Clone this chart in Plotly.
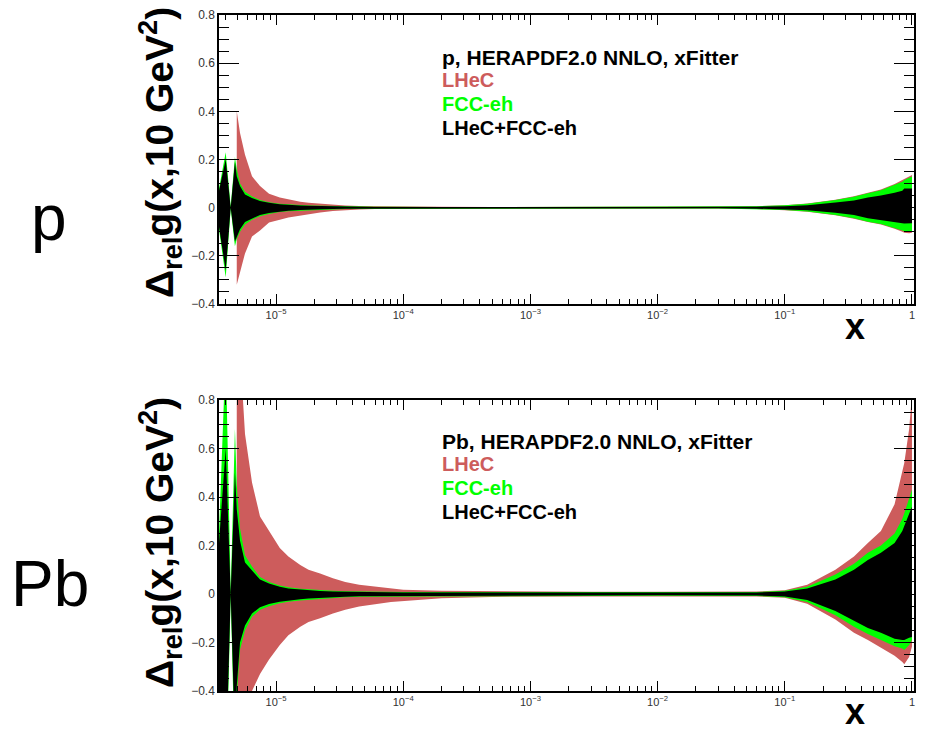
import plotly.graph_objects as go
import numpy as np

# ---------------- data ----------------
x_grid = [3.56e-6, 4.02e-6, 4.4e-6, 4.75e-6, 4.91e-6, 5.21e-6, 5.7e-6, 6.47e-6, 7.48e-6, 8.81e-6,
          1.07e-5, 1.25e-5, 1.55e-5, 1.8e-5, 2.22e-5, 2.8e-5, 3.5e-5, 4.5e-5, 6e-5, 8e-5, 1e-4,
          2e-4, 5e-4, 1e-3, 3e-3, 1e-2, 3e-2, 6e-2, 0.1, 0.15, 0.25, 0.35, 0.45, 0.57, 0.73,
          0.84, 0.87, 0.95, 1.0]
lhec_start = 4  # LHeC band begins at x = 4.91e-6

# proton panel
p_comb_up = [0.07, 0.20, 0.0, 0.19, 0.13, 0.09, 0.055, 0.04, 0.028, 0.02,
             0.014, 0.011, 0.009, 0.0075, 0.006, 0.005, 0.004, 0.0035, 0.003, 0.0028, 0.0025,
             0.0025, 0.0025, 0.0025, 0.0025, 0.0025, 0.0025, 0.004, 0.006, 0.010, 0.021, 0.030,
             0.042, 0.050, 0.062, 0.070, 0.080, 0.080, 0.080]
p_comb_lo = [-0.08, -0.26, 0.0, -0.14, -0.12, -0.09, -0.06, -0.045, -0.03, -0.022,
             -0.016, -0.013, -0.010, -0.0085, -0.007, -0.006, -0.005, -0.0045, -0.004, -0.003, -0.0025,
             -0.0025, -0.0025, -0.0025, -0.0025, -0.0025, -0.0025, -0.004, -0.007, -0.011, -0.021,
             -0.030, -0.044, -0.052, -0.060, -0.065, -0.066, -0.066, -0.065]
p_fcc_up = [0.08, 0.23, 0.005, 0.21, 0.16, 0.10, 0.066, 0.046, 0.032, 0.023,
            0.016, 0.013, 0.011, 0.0095, 0.008, 0.007, 0.006, 0.005, 0.004, 0.0035, 0.003,
            0.003, 0.003, 0.003, 0.003, 0.003, 0.003, 0.006, 0.010, 0.016, 0.032, 0.045,
            0.060, 0.072, 0.095, 0.108, 0.115, 0.125, 0.129]
p_fcc_lo = [-0.09, -0.29, -0.005, -0.16, -0.13, -0.10, -0.07, -0.05, -0.036, -0.026,
            -0.018, -0.015, -0.012, -0.0105, -0.009, -0.0075, -0.006, -0.0055, -0.005, -0.004, -0.003,
            -0.003, -0.003, -0.003, -0.003, -0.003, -0.003, -0.006, -0.010, -0.016, -0.030, -0.044,
            -0.058, -0.068, -0.085, -0.095, -0.097, -0.098, -0.097]
p_lhec_up = [0.40, 0.31, 0.22, 0.13, 0.09, 0.058,
             0.042, 0.034, 0.025, 0.02, 0.016, 0.012, 0.009, 0.007, 0.006, 0.005, 0.004,
             0.0035, 0.003, 0.003, 0.003, 0.003, 0.003, 0.006, 0.010, 0.017, 0.033, 0.047,
             0.062, 0.075, 0.098, 0.115, 0.122, 0.133, 0.136]
p_lhec_lo = [-0.32, -0.27, -0.19, -0.12, -0.095, -0.062,
             -0.05, -0.041, -0.034, -0.027, -0.02, -0.014, -0.01, -0.008, -0.006, -0.005, -0.004,
             -0.0035, -0.003, -0.003, -0.003, -0.003, -0.003, -0.006, -0.011, -0.017, -0.032, -0.046,
             -0.060, -0.070, -0.088, -0.100, -0.104, -0.106, -0.104]

# lead panel
pb_comb_up = [0.21, 0.60, 0.0, 0.50, 0.35, 0.22, 0.13, 0.099, 0.06, 0.043,
              0.03, 0.023, 0.018, 0.015, 0.012, 0.010, 0.009, 0.008, 0.007, 0.0065, 0.006,
              0.006, 0.006, 0.006, 0.006, 0.005, 0.005, 0.006, 0.010, 0.023, 0.060, 0.100,
              0.140, 0.170, 0.210, 0.260, 0.280, 0.330, 0.360]
pb_comb_lo = [-0.50, -0.75, 0.0, -0.60, -0.38, -0.20, -0.13, -0.08, -0.055, -0.041,
              -0.032, -0.027, -0.022, -0.019, -0.016, -0.013, -0.011, -0.009, -0.008, -0.007, -0.006,
              -0.006, -0.006, -0.006, -0.006, -0.005, -0.005, -0.006, -0.010, -0.025, -0.070, -0.110,
              -0.140, -0.160, -0.185, -0.190, -0.190, -0.180, -0.177]
pb_fcc_up = [0.25, 1.00, 0.01, 0.68, 0.45, 0.27, 0.16, 0.113, 0.07, 0.05,
             0.035, 0.028, 0.022, 0.019, 0.016, 0.013, 0.011, 0.010, 0.009, 0.0085, 0.008,
             0.008, 0.008, 0.008, 0.008, 0.007, 0.007, 0.008, 0.013, 0.030, 0.080, 0.125,
             0.170, 0.200, 0.250, 0.310, 0.333, 0.390, 0.430]
pb_fcc_lo = [-0.55, -0.85, -0.01, -0.70, -0.42, -0.23, -0.15, -0.094, -0.065, -0.05,
             -0.038, -0.032, -0.027, -0.023, -0.020, -0.016, -0.013, -0.011, -0.010, -0.009, -0.008,
             -0.008, -0.008, -0.008, -0.008, -0.007, -0.007, -0.008, -0.013, -0.033, -0.088, -0.135,
             -0.165, -0.190, -0.215, -0.225, -0.231, -0.210, -0.190]
pb_lhec_up = [1.50, 1.00, 0.66, 0.46, 0.32, 0.26,
              0.19, 0.155, 0.12, 0.10, 0.085, 0.065, 0.05, 0.038, 0.03, 0.022, 0.018,
              0.013, 0.011, 0.010, 0.009, 0.009, 0.009, 0.010, 0.015, 0.038, 0.100, 0.155,
              0.210, 0.260, 0.370, 0.500, 0.540, 0.680, 0.820]
pb_lhec_lo = [-1.20, -0.90, -0.55, -0.40, -0.33, -0.27,
              -0.21, -0.17, -0.135, -0.115, -0.10, -0.08, -0.065, -0.052, -0.042, -0.033, -0.028,
              -0.018, -0.012, -0.011, -0.010, -0.010, -0.009, -0.010, -0.015, -0.040, -0.105, -0.160,
              -0.190, -0.220, -0.255, -0.280, -0.290, -0.260, -0.217]

x_tick_vals = [1e-5, 1e-4, 1e-3, 1e-2, 1e-1, 1]
x_tick_text = ["10<sup>−5</sup>", "10<sup>−4</sup>", "10<sup>−3</sup>", "10<sup>−2</sup>",
               "10<sup>−1</sup>", "1"]
y_tick_vals = [-0.4, -0.2, 0, 0.2, 0.4, 0.6, 0.8]
y_tick_text = ["−0.4", "−0.2", "0", "0.2", "0.4", "0.6", "0.8"]

RED = "#cd5c5c"
GREEN = "#00ff00"
BLACK = "#000000"
FONT = "Liberation Sans, Arial, Helvetica, sans-serif"

fig = go.Figure()


def band(xs, up, lo, color, xa, ya):
    xx = list(xs) + list(xs)[::-1]
    yy = list(up) + list(lo)[::-1]
    fig.add_trace(go.Scatter(x=xx, y=yy, mode="lines", fill="toself", fillcolor=color,
                             line=dict(width=0, color=color), hoverinfo="skip",
                             showlegend=False, xaxis=xa, yaxis=ya))


panels = [
    ("x", "y", p_lhec_up, p_lhec_lo, p_fcc_up, p_fcc_lo, p_comb_up, p_comb_lo),
    ("x2", "y2", pb_lhec_up, pb_lhec_lo, pb_fcc_up, pb_fcc_lo, pb_comb_up, pb_comb_lo),
]
for xa, ya, lu, ll, fu, fl, cu, cl in panels:
    band(x_grid[lhec_start:], lu, ll, RED, xa, ya)
    band(x_grid, fu, fl, GREEN, xa, ya)
    band(x_grid, cu, cl, BLACK, xa, ya)

minor_x = [k * 10.0 ** n for n in range(-6, 0) for k in range(2, 10)]

W, H = 939, 737
OFF = 8  # page body margin


def px(v):
    return (v - OFF) / W


def py(v):
    return 1 - (v - OFF) / H


def xaxis(domain, anchor):
    return dict(type="log", domain=domain, anchor=anchor,
                range=[np.log10(3.56e-6), 0.016],
                tickmode="array", tickvals=x_tick_vals, ticktext=x_tick_text,
                ticks="inside", ticklen=10, tickwidth=1, tickcolor="black",
                minor=dict(tickmode="array", tickvals=minor_x, ticks="inside",
                           ticklen=5, tickwidth=1, tickcolor="black", showgrid=False),
                showline=True, linecolor="black", linewidth=1.5, mirror="allticks",
                showgrid=False, zeroline=False, automargin=False,
                tickfont=dict(family=FONT, size=11, color="#333333"))


def yaxis(domain, anchor):
    return dict(domain=domain, anchor=anchor, range=[-0.4, 0.8],
                tickmode="array", tickvals=y_tick_vals, ticktext=y_tick_text,
                ticks="inside", ticklen=20, tickwidth=1, tickcolor="black",
                minor=dict(dtick=0.05, tick0=0, ticks="inside", ticklen=10,
                           tickwidth=1, tickcolor="black", showgrid=False),
                showline=True, linecolor="black", linewidth=1.5, mirror="allticks",
                showgrid=False, zeroline=False, automargin=False,
                tickfont=dict(family=FONT, size=12, color="#333333"))


xdom = [px(219), px(914)]
fig.update_layout(
    template="none",
    width=W, height=H, margin=dict(l=0, r=0, t=0, b=0, pad=0),
    paper_bgcolor="white", plot_bgcolor="white",
    xaxis=xaxis(xdom, "y"),
    yaxis=yaxis([py(304), py(15)], "x"),
    xaxis2=xaxis(xdom, "y2"),
    yaxis2=yaxis([py(691), py(400)], "x2"),
)


def ann(text, x, y, size, color="black", angle=0, xanchor="center"):
    fig.add_annotation(text=text, x=px(x), y=py(y), xref="paper", yref="paper",
                       showarrow=False, textangle=angle, xanchor=xanchor, yanchor="middle",
                       font=dict(family=FONT, size=size, color=color))


for (y0, lab) in [(57, "p"), (441, "Pb")]:
    ann(f"<b>{lab}, HERAPDF2.0 NNLO, xFitter</b>", 440, y0, 21, xanchor="left")
    ann("<b>LHeC</b>", 440, y0 + 23, 20, RED, xanchor="left")
    ann("<b>FCC-eh</b>", 440, y0 + 47, 20, GREEN, xanchor="left")
    ann("<b>LHeC+FCC-eh</b>", 440, y0 + 71, 20, xanchor="left")

ytitle = "<b>Δ<sub>rel</sub>g(x,10 GeV<sup>2</sup>)</b>"
ann(ytitle, 160, 153, 39, angle=-90)
ann(ytitle, 160, 543, 39, angle=-90)
ann("<b>x</b>", 855, 327, 36)
ann("<b>x</b>", 855, 711, 36)
ann("p", 49, 218, 64)
ann("Pb", 50, 584, 64)

fig.write_html("out.html")
